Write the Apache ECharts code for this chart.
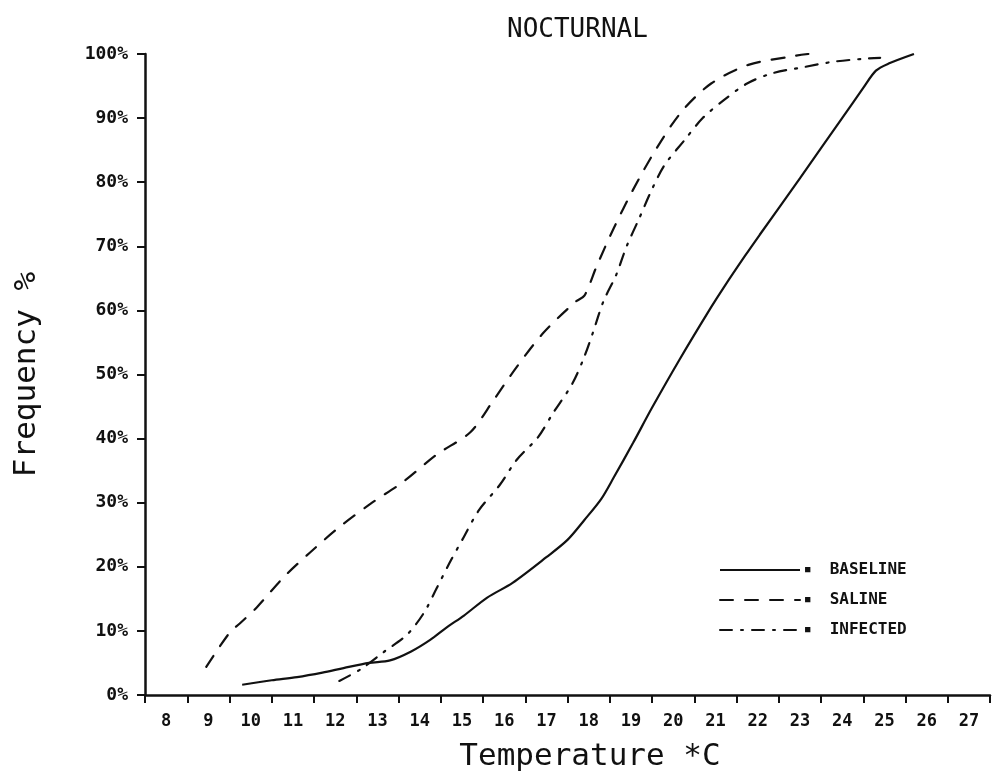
<!DOCTYPE html>
<html>
<head>
<meta charset="utf-8">
<script src="https://cdn.jsdelivr.net/npm/echarts@6/dist/echarts.min.js"></script>
<style>
html,body{margin:0;padding:0;background:#fff;}
#chart{width:992px;height:784px;}
</style>
</head>
<body>
<div id="chart"></div>
<script>
// Tick labels / categories
const tempCategories = ['8','9','10','11','12','13','14','15','16','17','18','19','20','21','22','23','24','25','26','27'];
const yTicks = [0,10,20,30,40,50,60,70,80,90,100];

// Series values: [temperature °C, frequency %]
const baseline = [[9.8,1.6],[10.5,2.3],[11.1,2.8],[11.7,3.5],[12.2,4.2],[12.8,5.0],[13.3,5.4],[13.8,6.8],[14.25,8.6],[14.65,10.6],[15.05,12.4],[15.6,15.2],[16.2,17.5],[17.0,21.5],[17.5,24.2],[17.9,27.3],[18.3,30.6],[18.6,34.0],[19.05,39.3],[19.5,44.8],[20.15,52.3],[20.9,60.5],[21.2,63.6],[21.7,68.5],[22.05,71.8],[23.0,80.6],[24.0,90.0],[24.5,94.7],[24.8,97.4],[25.1,98.5],[25.7,100]];
const saline = [[8.95,4.4],[9.5,9.7],[9.75,11.2],[10.15,13.7],[10.77,18.3],[11.4,22.2],[12.1,26.2],[12.85,29.9],[13.6,33.2],[14.4,37.5],[15.2,41.0],[15.75,46.0],[16.3,51.2],[16.93,56.5],[17.68,61.3],[17.9,62.3],[18.19,66.9],[18.6,72.9],[19.05,78.8],[19.6,85.2],[20.2,91.0],[20.9,95.4],[21.78,98.3],[22.87,99.7],[23.2,100]];
const infected = [[12.1,2.2],[12.6,4.0],[13.15,6.7],[13.7,9.4],[14.1,12.8],[14.4,16.6],[14.7,20.5],[15.05,24.7],[15.4,28.8],[15.9,32.8],[16.3,36.7],[16.8,40.2],[17.15,43.9],[17.6,48.4],[17.87,52.3],[18.1,56.5],[18.35,61.4],[18.65,65.5],[18.9,70.0],[19.2,74.4],[19.5,78.9],[19.8,82.7],[20.25,86.4],[20.7,90.0],[21.2,92.8],[21.75,95.4],[22.35,97.0],[23.05,97.9],[23.8,98.8],[24.6,99.3],[24.9,99.4]];

const FONT = 'DejaVu Sans Mono';
const INK = '#111';

const chart = echarts.init(document.getElementById('chart'), null, {renderer:'canvas'});
chart.setOption({
  backgroundColor:'#fff',
  animation:false,
  color:[INK, INK, INK],
  title:{
    text:'NOCTURNAL', left:502, top:12,
    textStyle:{fontFamily:FONT, fontSize:26, fontWeight:'normal', color:INK}
  },
  legend:{
    orient:'vertical', left:714, top:557, itemWidth:80, itemHeight:14, itemGap:14,
    data:['BASELINE','SALINE','INFECTED'],
    itemStyle:{opacity:0},
    formatter: n => '{m|■}  ' + n,
    textStyle:{fontFamily:FONT, fontSize:16, fontWeight:'bold', color:INK,
      rich:{m:{fontSize:9, color:INK}}},
    selectedMode:false
  },
  grid:{left:145, top:54, right:2, bottom:89, containLabel:false},
  xAxis:[
    {
      type:'category', data:tempCategories, boundaryGap:true,
      axisLine:{lineStyle:{color:INK, width:2.5}},
      axisTick:{show:true, interval:0, length:8, lineStyle:{color:INK, width:2}},
      axisLabel:{interval:0, margin:18, fontFamily:FONT, fontSize:17, fontWeight:'bold', color:INK},
      name:'Temperature *C', nameLocation:'middle', nameGap:46,
      nameTextStyle:{fontFamily:FONT, fontSize:31, color:INK, padding:[0,0,0,45]}
    },
    {type:'value', min:7.5, max:27.5, show:false}
  ],
  yAxis:{
    type:'value', min:0, max:100, interval:10,
    axisLine:{show:true, lineStyle:{color:INK, width:2.5}},
    axisTick:{show:true, length:8, lineStyle:{color:INK, width:2}},
    splitLine:{show:false},
    axisLabel:{margin:17, fontFamily:FONT, fontSize:18, fontWeight:'bold', color:INK,
      formatter: v => yTicks.includes(v) ? v + '%' : ''},
    name:'Frequency %', nameLocation:'middle', nameRotate:90, nameGap:103,
    nameTextStyle:{fontFamily:FONT, fontSize:31, color:INK}
  },
  series:[
    {name:'BASELINE', type:'line', xAxisIndex:1, data:baseline, smooth:0.3, symbol:'none',
      lineStyle:{color:INK, width:2.2, type:'solid'}},
    {name:'SALINE', type:'line', xAxisIndex:1, data:saline, smooth:0.3, symbol:'none',
      lineStyle:{color:INK, width:2.2, type:[13,12], cap:'round'}},
    {name:'INFECTED', type:'line', xAxisIndex:1, data:infected, smooth:0.3, symbol:'none',
      lineStyle:{color:INK, width:2.2, type:[12,9,2,9], cap:'round'}}
  ]
});
</script>
</body>
</html>
